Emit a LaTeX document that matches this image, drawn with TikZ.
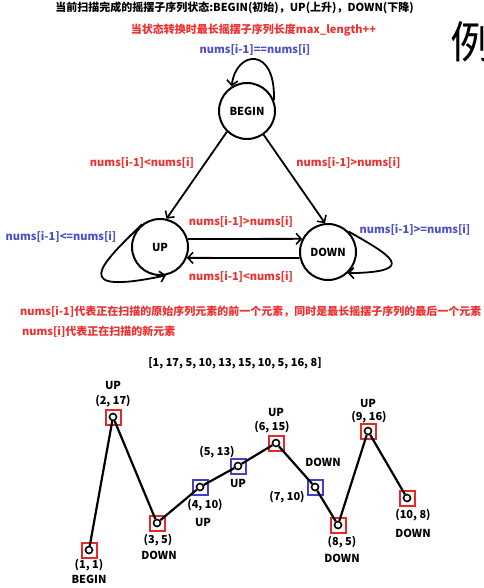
\documentclass[tikz,border=0pt]{standalone}
\usepackage{fontspec}
\setmainfont{Noto Sans CJK SC}
\usetikzlibrary{arrows.meta}
\definecolor{tred}{RGB}{238,48,48}
\definecolor{tblue}{RGB}{78,78,205}
\definecolor{sqred}{RGB}{230,40,40}
\definecolor{sqblue}{RGB}{65,65,200}
\begin{document}
\begin{tikzpicture}[x=1pt,y=-1pt,
  every node/.style={font=\fontsize{11}{13}\selectfont\bfseries, inner sep=0pt},
  stnode/.style={circle, draw, line width=2pt, minimum size=56pt},
  conn/.style={line width=1.8pt, -{Straight Barb[length=5pt,width=11pt,line width=1.6pt]}},
  redlab/.style={text=tred},
  bluelab/.style={text=tblue},
  pt/.style={circle, draw, line width=1.6pt, minimum size=7pt, fill=white},
  rsq/.style={draw=sqred, line width=2pt, minimum size=15pt},
  bsq/.style={draw=sqblue, line width=2pt, minimum size=15pt},
  seg/.style={line width=2.2pt}
]
\fill[white] (0,0) rectangle (483,588);
\useasboundingbox (0,0) rectangle (483,588);
\begin{scope}
\clip (0,0) rectangle (483,588);
\node[font=\fontsize{44}{44}\selectfont] (li) at (472,42) {例};
\end{scope}
% header texts
\node (title) at (234.5,8) {当前扫描完成的摇摆子序列状态:BEGIN(初始)，UP(上升)，DOWN(下降)};
\node[redlab] (rule) at (253.5,30) {当状态转换时最长摇摆子序列长度max\_length++};
\node[bluelab] (eqlab) at (255,50) {nums[i-1]==nums[i]};
% states
\node[stnode] (BEGIN) at (247,111) {BEGIN};
\node[stnode] (UP) at (160,247) {UP};
\node[stnode] (DOWN) at (328,252) {DOWN};
% transitions
\draw[conn] (BEGIN.22) .. controls (276,46) and (236,50) .. (BEGIN.122);
\draw[conn] (BEGIN.226) -- (UP.77);
\draw[conn] (BEGIN.305) -- (DOWN.96);
\draw[conn] (UP.16) -- (DOWN.153);
\draw[conn] (DOWN.192) -- (UP.-22);
\draw[conn] (UP.128) .. controls (100,265) and (68,296) .. (UP.-78);
\draw[conn] (DOWN.45) .. controls (390,255) and (420,272) .. (DOWN.-47);
% transition labels
\node[redlab] (l1) at (142,163) {nums[i-1]<nums[i]};
\node[redlab] (l2) at (348.5,163) {nums[i-1]>nums[i]};
\node[redlab] (l3) at (241,222) {nums[i-1]>nums[i]};
\node[redlab] (l4) at (241,277) {nums[i-1]<nums[i]};
\node[bluelab] (l5) at (61,237) {nums[i-1]<=nums[i]};
\node[bluelab] (l6) at (415,230) {nums[i-1]>=nums[i]};
% notes
\node[redlab, anchor=west] (n1) at (20,312) {nums[i-1]代表正在扫描的原始序列元素的前一个元素，同时是最长摇摆子序列的最后一个元素};
\node[redlab, anchor=west] (n2) at (22,332) {nums[i]代表正在扫描的新元素};
\node (arr) at (235,363) {[1, 17, 5, 10, 13, 15, 10, 5, 16, 8]};
% squares
\node[rsq] (s1) at (89,550) {};
\node[rsq] (s2) at (113,417) {};
\node[rsq] (s3) at (157,523) {};
\node[bsq] (s4) at (200,487) {};
\node[bsq] (s5) at (238,466) {};
\node[rsq] (s6) at (276,443) {};
\node[bsq] (s7) at (315,487) {};
\node[rsq] (s8) at (338,525) {};
\node[rsq] (s9) at (368,431) {};
\node[rsq] (s10) at (407,498) {};
% points
\node[pt] (p1) at (89,550) {};
\node[pt] (p2) at (113,417) {};
\node[pt] (p3) at (157,523) {};
\node[pt] (p4) at (200,487) {};
\node[pt] (p5) at (238,466) {};
\node[pt] (p6) at (276,443) {};
\node[pt] (p7) at (315,487) {};
\node[pt] (p8) at (338,525) {};
\node[pt] (p9) at (368,431) {};
\node[pt] (p10) at (407,498) {};
\draw[seg] (p1) -- (p2);
\draw[seg] (p2) -- (p3);
\draw[seg] (p3) -- (p4);
\draw[seg] (p4) -- (p5);
\draw[seg] (p5) -- (p6);
\draw[seg] (p6) -- (p7);
\draw[seg] (p7) -- (p8);
\draw[seg] (p8) -- (p9);
\draw[seg] (p9) -- (p10);
% point labels
\node (u2) at (113,385) {UP};
\node (c2) at (113,401) {(2, 17)};
\node (c1) at (89,565) {(1, 1)};
\node (b1) at (89,579) {BEGIN};
\node (c3) at (158,540) {(3, 5)};
\node (d3) at (159,555) {DOWN};
\node (c4) at (205,505) {(4, 10)};
\node (u4) at (203,522) {UP};
\node (c5) at (217,452) {(5, 13)};
\node (u5) at (238,483) {UP};
\node (u6) at (276,412) {UP};
\node (c6) at (272,427) {(6, 15)};
\node (d7) at (323,462) {DOWN};
\node (c7) at (287,497) {(7, 10)};
\node (c8) at (342,542) {(8, 5)};
\node (d8) at (342,558) {DOWN};
\node (u9) at (368,403) {UP};
\node (c9) at (369,417) {(9, 16)};
\node (c10) at (413,515) {(10, 8)};
\node (d10) at (413,533) {DOWN};
\end{tikzpicture}
\end{document}
